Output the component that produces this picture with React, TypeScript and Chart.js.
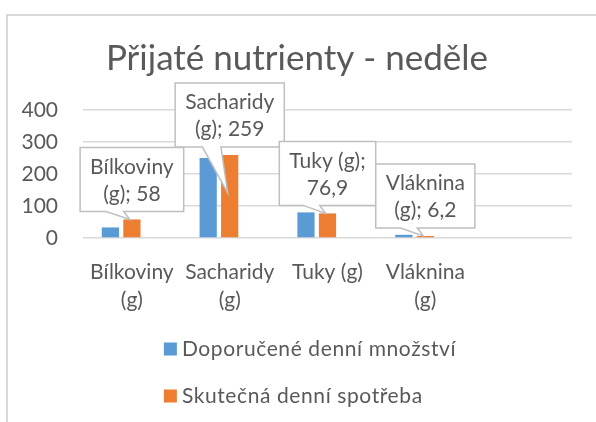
import React, { useEffect, useRef } from "react";
import { Chart, registerables } from "chart.js";

Chart.register(...registerables);

// ---- data ----
const chartTitle = "Přijaté nutrienty - neděle";
const categories = ["Bílkoviny (g)", "Sacharidy (g)", "Tuky (g)", "Vláknina (g)", ""];
const seriesNames = ["Doporučené denní množství", "Skutečná denní spotřeba"];
const recommended = [33, 250, 80, 10, null];
const actual = [58, 259, 76.9, 6.2, null];
const emptySeries = [null, null, null, null, null];
const yTicks = [0, 100, 200, 300, 400];

// ---- styles ----
const FONT = "Lato, 'Open Sans', sans-serif";
const TEXT = "#595959";
const GRID = "#d9d9d9";
const BLUE = "#5b9bd5";
const ORANGE = "#ed7d31";
const calloutTipDepth = [0, 0.46, 0, 0];

function axisLabel(c: string): string | string[] {
  if (c.length > 10) {
    const i = c.lastIndexOf(" ");
    return [c.slice(0, i), c.slice(i + 1)];
  }
  return c;
}

function fmt(v: number) {
  return String(v).replace(".", ",");
}

function wrap(ctx: CanvasRenderingContext2D, text: string, maxW: number) {
  const words = text.split(" ");
  const lines: string[] = [];
  let cur = "";
  for (const w of words) {
    const test = cur ? cur + " " + w : w;
    if (cur && ctx.measureText(test).width > maxW) {
      lines.push(cur);
      cur = w;
    } else cur = test;
  }
  if (cur) lines.push(cur);
  return lines;
}

const framePlugin = {
  id: "frame",
  beforeDraw(chart: any) {
    const ctx = chart.ctx;
    ctx.save();
    ctx.fillStyle = "#ffffff";
    ctx.fillRect(0, 0, chart.width, chart.height);
    ctx.strokeStyle = GRID;
    ctx.lineWidth = 2;
    ctx.strokeRect(7, 15, chart.width + 20, chart.height + 20);
    ctx.restore();
  },
};

const calloutPlugin = {
  id: "callouts",
  afterDatasetsDraw(chart: any) {
    const ctx: CanvasRenderingContext2D = chart.ctx;
    const meta = chart.getDatasetMeta(1);
    ctx.save();
    ctx.font = `21px ${FONT}`;
    meta.data.forEach((bar: any, i: number) => {
      const v = actual[i];
      if (v == null) return;
      const p = bar.getProps(["x", "y", "base"], true);
      const lines = wrap(ctx, categories[i] + "; " + fmt(v), 100);
      const lh = 27;
      const w = Math.max(...lines.map((l) => ctx.measureText(l).width)) + 20;
      const h = lines.length * lh + 10;
      const bottom = p.y - 8;
      const top = bottom - h;
      const left = p.x - w / 2;
      const right = left + w;
      const tipX = p.x - 2;
      const tipY = p.y + calloutTipDepth[i] * (p.base - p.y);
      const bl = left + 0.25 * w;
      const br = left + 0.42 * w;
      ctx.beginPath();
      ctx.moveTo(left, top);
      ctx.lineTo(right, top);
      ctx.lineTo(right, bottom);
      ctx.lineTo(br, bottom);
      ctx.lineTo(tipX, tipY);
      ctx.lineTo(bl, bottom);
      ctx.lineTo(left, bottom);
      ctx.closePath();
      ctx.fillStyle = "#ffffff";
      ctx.fill();
      ctx.strokeStyle = "#bfbfbf";
      ctx.lineWidth = 1.5;
      ctx.stroke();
      ctx.fillStyle = TEXT;
      ctx.textAlign = "center";
      ctx.textBaseline = "middle";
      lines.forEach((l, k) => {
        ctx.fillText(l, p.x, top + 6 + lh / 2 + k * lh);
      });
    });
    ctx.restore();
  },
};

const legendPlugin = {
  id: "customLegend",
  afterDraw(chart: any) {
    const ctx: CanvasRenderingContext2D = chart.ctx;
    const items = chart.data.datasets.filter((d: any) => d.label);
    ctx.save();
    ctx.font = `21px ${FONT}`;
    (ctx as any).letterSpacing = "0.6px";
    const textW = Math.max(...items.map((d: any) => ctx.measureText(d.label).width));
    const box = 13;
    const gap = 5;
    const blockW = box + gap + textW;
    const cx = 310;
    const x0 = cx - blockW / 2;
    const y0 = chart.chartArea.bottom + 111;
    items.forEach((d: any, k: number) => {
      const y = y0 + k * 47;
      ctx.fillStyle = d.backgroundColor;
      ctx.fillRect(x0, y - box / 2, box, box);
      ctx.fillStyle = TEXT;
      ctx.textAlign = "left";
      ctx.textBaseline = "middle";
      ctx.fillText(d.label, x0 + box + gap, y);
    });
    ctx.restore();
  },
};

export default function App() {
  const ref = useRef<HTMLCanvasElement>(null);
  useEffect(() => {
    document.body.style.margin = "0";
    Chart.defaults.font.family = FONT;
    const chart = new Chart(ref.current!, {
      type: "bar",
      data: {
        labels: categories.map(axisLabel),
        datasets: [
          { label: seriesNames[0], data: recommended, backgroundColor: BLUE },
          { label: seriesNames[1], data: actual, backgroundColor: ORANGE },
          { label: "", data: emptySeries, backgroundColor: "#a5a5a5" },
        ],
      },
      options: {
        responsive: false,
        animation: false,
        events: [],
        layout: { padding: { top: 15, left: 22, right: 24, bottom: 0 } },
        datasets: { bar: { categoryPercentage: 0.66, barPercentage: 0.8 } },
        plugins: {
          legend: { display: false },
          tooltip: { enabled: false },
          title: {
            display: true,
            text: chartTitle,
            color: TEXT,
            font: { family: FONT, size: 35, weight: "normal", lineHeight: 1.2 },
            padding: { top: 23, bottom: 30 },
          },
        },
        scales: {
          x: {
            grid: { display: false, drawTicks: false },
            border: { display: false },
            ticks: {
              color: TEXT,
              font: { family: FONT, size: 21, lineHeight: 1.3 },
              padding: 21,
              maxRotation: 0,
              autoSkip: false,
            },
            afterFit: (s: any) => {
              s.height = 184;
            },
          },
          y: {
            min: yTicks[0],
            max: yTicks[yTicks.length - 1],
            grid: { color: GRID, lineWidth: 1.5, drawTicks: false },
            border: { display: false },
            ticks: {
              stepSize: yTicks[1] - yTicks[0],
              color: TEXT,
              font: { family: FONT, size: 21 },
              padding: 25,
            },
            afterFit: (s: any) => {
              s.width = 61;
            },
          },
        },
      },
      plugins: [framePlugin, calloutPlugin, legendPlugin],
    } as any);
    return () => chart.destroy();
  }, []);
  return (
    <div style={{ width: 596, height: 422 }}>
      <canvas ref={ref} width={596} height={422} />
    </div>
  );
}
